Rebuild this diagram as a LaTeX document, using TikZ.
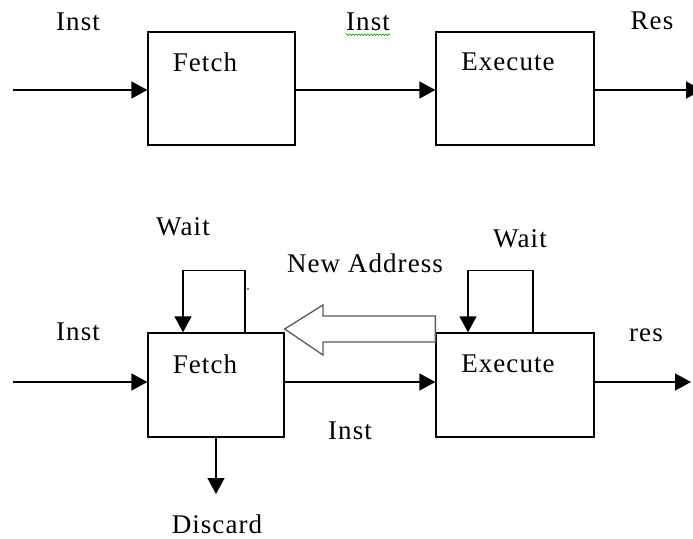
\documentclass[tikz,border=0pt]{standalone}
\usepackage{fontspec}
\setmainfont{Liberation Serif}[LetterSpace=4]
\usetikzlibrary{arrows.meta,decorations.pathmorphing}
\tikzset{
  stage/.style={draw, line width=1.3pt, inner sep=0pt},
  lbl/.style={inner sep=0pt, font=\fontsize{27}{30}\selectfont},
  arr/.style={line width=1.4pt, -{Triangle[length=16pt,width=17pt]}}
}
\begin{document}
\begin{tikzpicture}[x=1pt, y=-1pt]
  \useasboundingbox (0,0) rectangle (693,538);

  % Etapas sem pipeline
  \node[stage, minimum width=147pt, minimum height=113pt] (f1) at (221.5,88.5) {};
  \node[stage, minimum width=158pt, minimum height=113pt] (e1) at (515,88.5) {};
  \node[lbl] (tf1) at (205,62) {Fetch};
  \node[lbl] (te1) at (508,62) {Execute};

  % Etapas com pipeline
  \node[stage, minimum width=136pt, minimum height=104pt] (f2) at (216,385) {};
  \node[stage, minimum width=158pt, minimum height=104pt] (e2) at (515,385) {};
  \node[lbl] (tf2) at (205,364) {Fetch};
  \node[lbl] (te2) at (508,364) {Execute};

  % Rotulos
  \foreach \x/\y/\name/\txt in {78/21.5/a/Inst, 368/21.5/b/Inst, 652/21/c/Res,
      78/332/d/Inst, 350/431/e/Inst, 646/335/f/res,
      183/227/g/Wait, 520/239/h/Wait, 365/263/i/New Address, 217/524/j/Discard} {
    \node[lbl] (l\name) at (\x,\y) {\txt};
  }
  \draw[green!60!black, line width=0.6pt, decorate,
    decoration={snake, amplitude=0.8pt, segment length=3pt}]
    ([yshift=-4pt]lb.south west) -- ([yshift=-4pt]lb.south east);

  % Setas de cima
  \coordinate (in1) at (13,90);
  \coordinate (out1) at (702,90);
  \draw[arr] (in1) -- (in1 -| f1.west);
  \draw[arr] (in1 -| f1.east) -- (in1 -| e1.west);
  \draw[arr] (in1 -| e1.east) -- (out1);

  % Setas de baixo
  \coordinate (in2) at (13,382);
  \coordinate (out2) at (691,382);
  \coordinate (dis) at (216,494);
  \draw[arr] (in2) -- (in2 -| f2.west);
  \draw[arr] (in2 -| f2.east) -- (in2 -| e2.west);
  \draw[arr] (in2 -| e2.east) -- (out2);
  \draw[arr] (f2.south) -- (dis);

  % Lacos de espera
  \draw[arr] ([xshift=29pt]f2.north) -- ++(0,-62) -| ([xshift=-33pt]f2.north);
  \draw[arr] ([xshift=18pt]e2.north) -- ++(0,-62) -| ([xshift=-47pt]e2.north);
  \fill (248,289) circle (0.9pt);

  % Seta vazada (novo endereco)
  \draw[black!65, line width=1.3pt]
    (e2.north west |- 0,316) -- (323,316) -- (323,305) -- (f2.north east |- 0,329)
    -- (323,355) -- (323,342) -- (e2.north west |- 0,342) -- cycle;
\end{tikzpicture}
\end{document}
